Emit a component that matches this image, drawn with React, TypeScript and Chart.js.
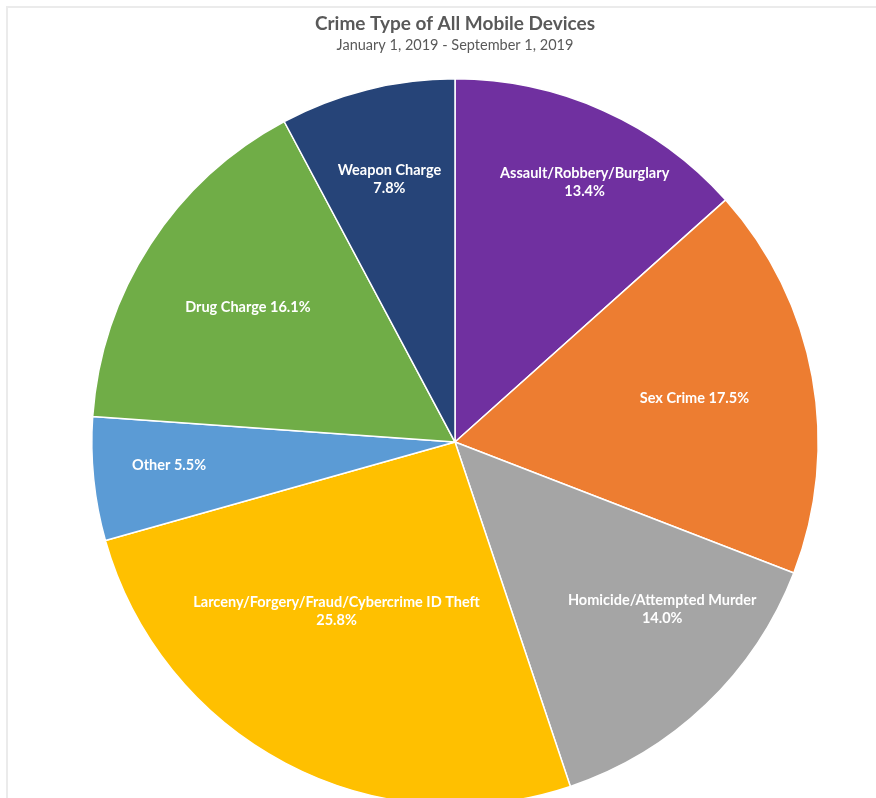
import React, { useEffect, useRef } from "react";
import { Chart, registerables } from "chart.js";

Chart.register(...registerables);

const categories = [
  "Assault/Robbery/Burglary",
  "Sex Crime",
  "Homicide/Attempted Murder",
  "Larceny/Forgery/Fraud/Cybercrime ID Theft",
  "Other",
  "Drug Charge",
  "Weapon Charge",
];
const values = [13.4, 17.5, 14.0, 25.8, 5.5, 16.1, 7.8];
const colors = ["#7030A0", "#ED7D31", "#A5A5A5", "#FFC000", "#5B9BD5", "#70AD47", "#264478"];
// styling for in-slice labels
const labelTwoLines = [true, false, true, true, false, false, true];
const labelRadius = [0.8, 0.67, 0.733, 0.569, 0.79, 0.68, 0.745];
const labelAngleShift = [2.4, 0, -7.4, 7.1, 1.2, 0, 0];
const titleText = "Crime Type of All Mobile Devices";
const subtitleText = "January 1, 2019 - September 1, 2019";

const sliceLabels = {
  id: "sliceLabels",
  afterDatasetsDraw(chart: any) {
    const ctx = chart.ctx;
    const meta = chart.getDatasetMeta(0);
    ctx.save();
    ctx.fillStyle = "#ffffff";
    ctx.font = "bold 14.5px Lato";
    ctx.textAlign = "center";
    ctx.textBaseline = "middle";
    meta.data.forEach((arc: any, i: number) => {
      const mid = (arc.startAngle + arc.endAngle) / 2 + (labelAngleShift[i] * Math.PI) / 180;
      const r = arc.outerRadius * labelRadius[i];
      const x = arc.x + Math.cos(mid) * r;
      const y = arc.y + Math.sin(mid) * r;
      const pct = values[i].toFixed(1) + "%";
      if (labelTwoLines[i]) {
        ctx.fillText(categories[i], x, y - 9);
        ctx.fillText(pct, x, y + 9);
      } else {
        ctx.fillText(categories[i] + " " + pct, x, y);
      }
    });
    ctx.restore();
  },
};

export default function App() {
  const ref = useRef<HTMLCanvasElement>(null);
  useEffect(() => {
    const chart = new Chart(ref.current!, {
      type: "pie",
      data: {
        labels: categories,
        datasets: [
          {
            data: values,
            backgroundColor: colors,
            borderColor: "#ffffff",
            borderWidth: 1.5,
          },
        ],
      },
      options: {
        responsive: false,
        animation: false,
        layout: { padding: { left: 40, right: 6, top: 0, bottom: 0 } },
        plugins: {
          legend: { display: false },
          tooltip: { enabled: false },
          title: {
            display: true,
            text: titleText,
            color: "#595959",
            font: { family: "Lato", size: 19, weight: "bold" },
            padding: { top: 12.6, bottom: 0 },
          },
          subtitle: {
            display: true,
            text: subtitleText,
            color: "#595959",
            font: { family: "Lato", size: 14.5, weight: "normal" },
            padding: { top: 1, bottom: 24.3 },
          },
        },
      },
      plugins: [sliceLabels],
    });
    return () => chart.destroy();
  }, []);
  return (
    <div
      style={{
        position: "fixed",
        left: 0,
        top: 0,
        width: 876,
        height: 798,
        overflow: "hidden",
        background: "#ffffff",
      }}
    >
      <canvas ref={ref} width={876} height={806} style={{ display: "block" }} />
      <div
        style={{
          position: "absolute",
          left: 6,
          top: 6,
          width: 900,
          height: 900,
          borderTop: "2px solid #ebebeb",
          borderLeft: "2px solid #ebebeb",
          pointerEvents: "none",
        }}
      />
    </div>
  );
}
